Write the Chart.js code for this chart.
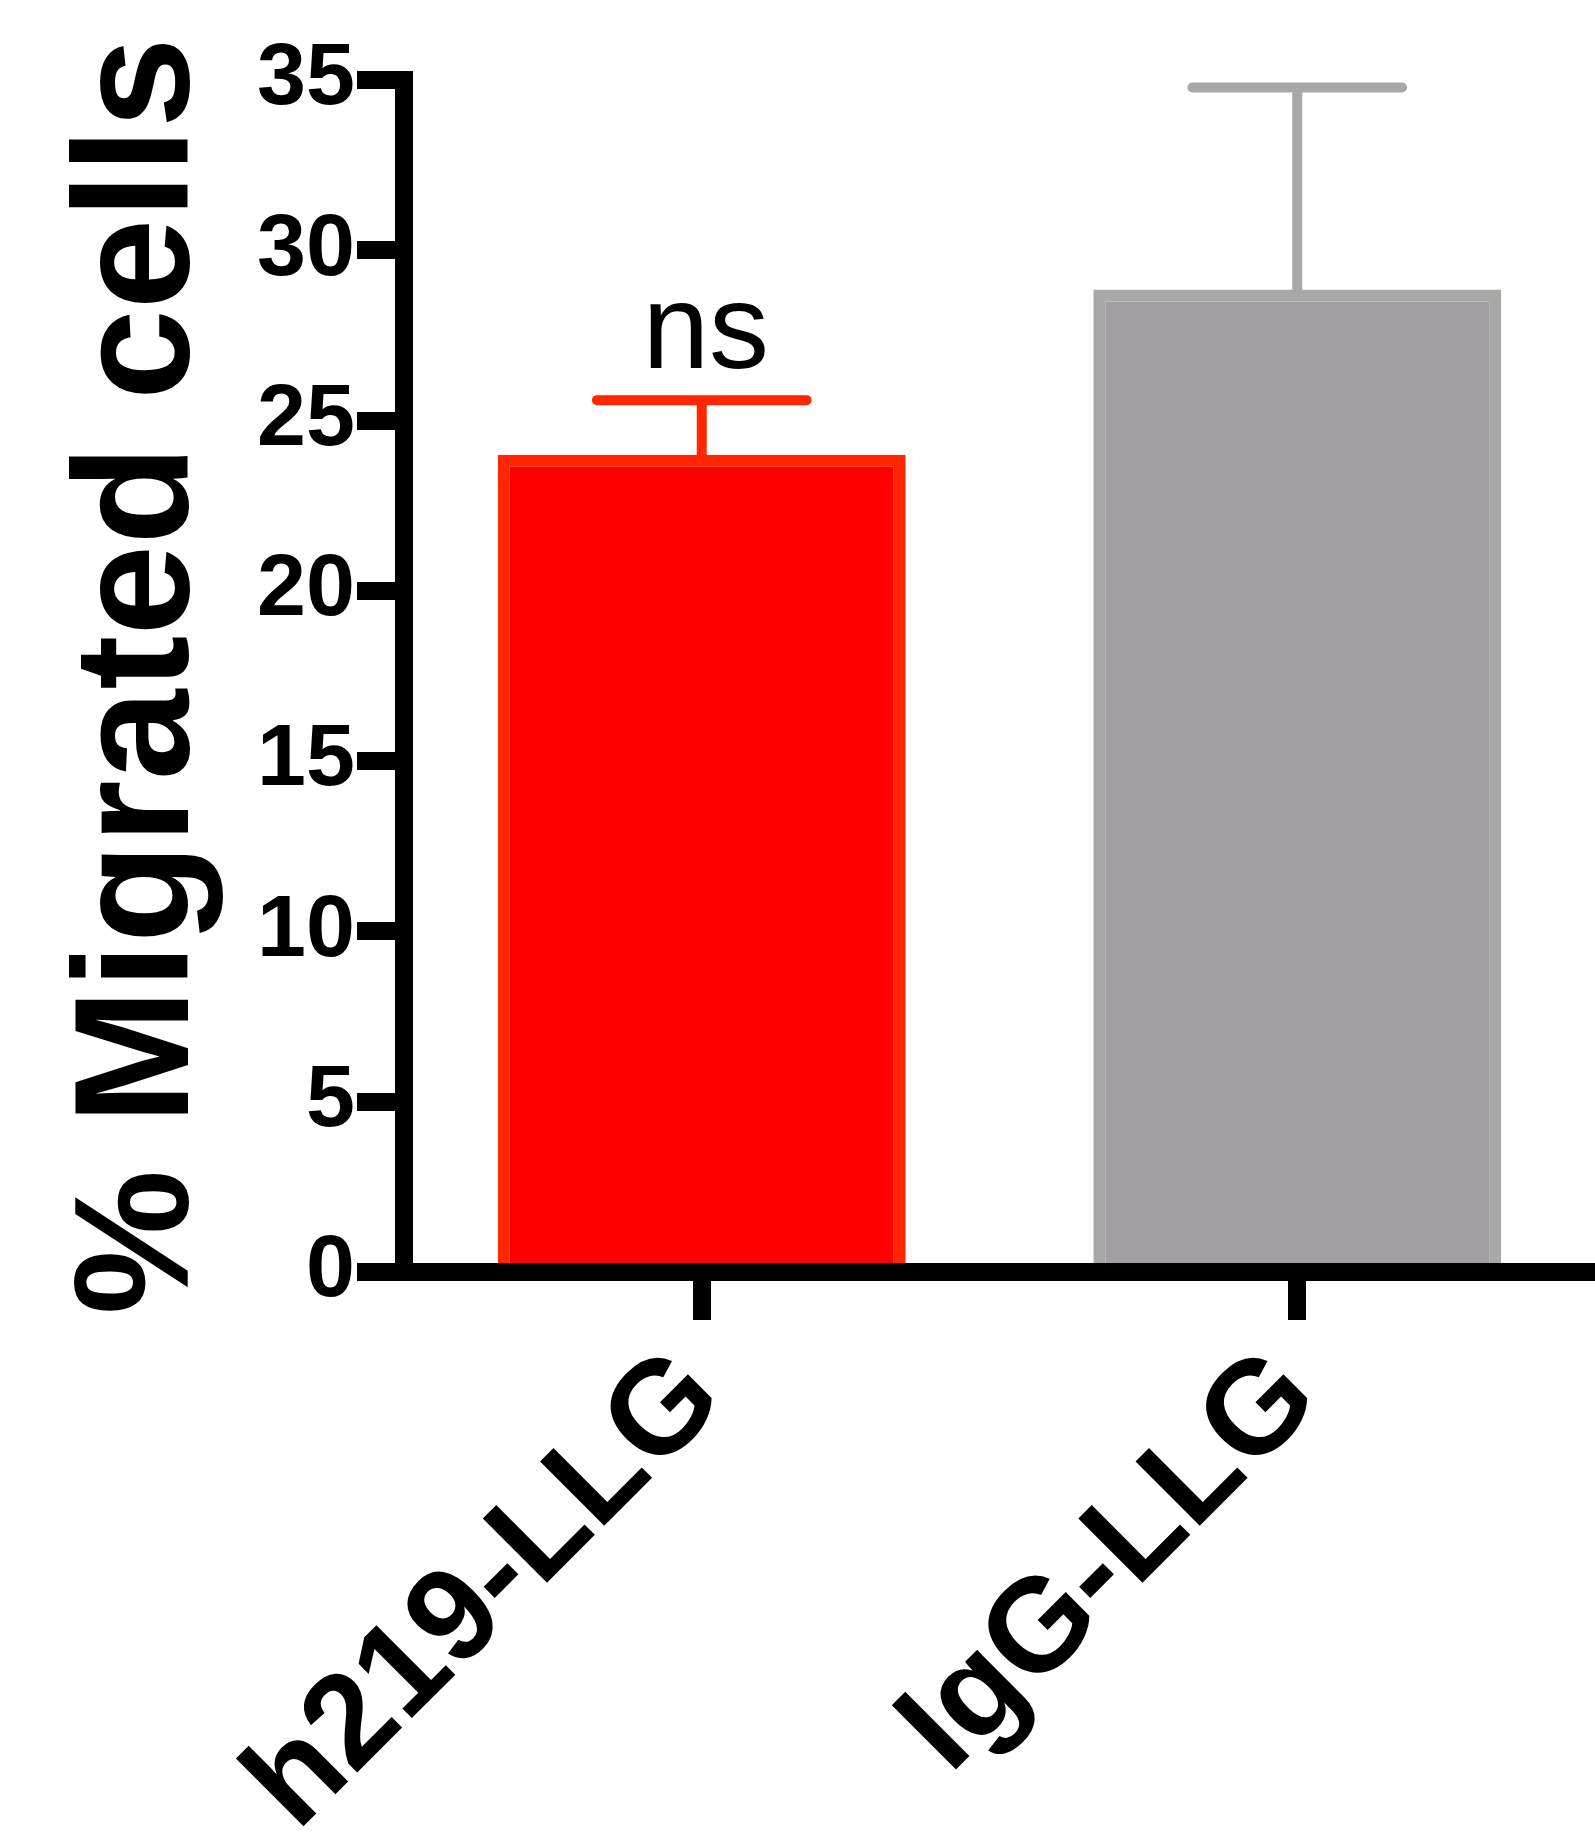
<!DOCTYPE html>
<html>
<head>
<meta charset="utf-8">
<script src="https://cdn.jsdelivr.net/npm/chart.js@4/dist/chart.umd.min.js"></script>
<style>
  html, body { margin: 0; padding: 0; background: #ffffff; }
  #wrap { width: 1595px; height: 1847px; }
</style>
</head>
<body>
<div id="wrap"><canvas id="c" width="1595" height="1847"></canvas></div>
<script>
// ---- data ----
const categories = ['h219-LLG', 'IgG-LLG'];
const means = [24.0, 28.85];
const errors = [1.6, 5.93];
const annotations = ['ns', ''];
const yMin = 0;
const yMax = 35;
const yStep = 5;

// ---- styles ----
const fillColors = ['#FF0000', '#A19FA4'];
const borderColors = ['#FF2600', '#A8A8A7'];
const FONT = "'Liberation Sans', Arial, Helvetica, sans-serif";

const errorBarPlugin = {
  id: 'errorBars',
  afterDatasetsDraw(chart) {
    const ctx = chart.ctx;
    const meta = chart.getDatasetMeta(0);
    const yScale = chart.scales.y;
    meta.data.forEach((bar, i) => {
      const top = yScale.getPixelForValue(means[i] + errors[i]);
      const half = bar.width * 0.257;
      ctx.save();
      ctx.strokeStyle = borderColors[i];
      ctx.lineWidth = 10;
      ctx.lineCap = 'butt';
      ctx.beginPath();
      ctx.moveTo(bar.x, bar.y + 2);
      ctx.lineTo(bar.x, top);
      ctx.stroke();
      ctx.lineCap = 'round';
      ctx.beginPath();
      ctx.moveTo(bar.x - half, top);
      ctx.lineTo(bar.x + half, top);
      ctx.stroke();
      if (annotations[i]) {
        ctx.fillStyle = '#000000';
        ctx.font = '120px ' + FONT;
        ctx.textAlign = 'center';
        ctx.textBaseline = 'alphabetic';
        ctx.fillText(annotations[i], bar.x + 4, top - 32);
      }
      ctx.restore();
    });
  }
};

new Chart(document.getElementById('c'), {
  type: 'bar',
  data: {
    labels: categories,
    datasets: [{
      data: means,
      backgroundColor: fillColors,
      borderColor: borderColors,
      borderWidth: 12,
      borderSkipped: 'start',
      barPercentage: 0.685,
      categoryPercentage: 1.0
    }]
  },
  options: {
    responsive: false,
    devicePixelRatio: 1,
    animation: false,
    layout: { padding: { top: 80, left: 0, right: 0, bottom: 0 } },
    plugins: { legend: { display: false }, tooltip: { enabled: false } },
    scales: {
      x: {
        offset: true,
        grid: {
          display: true,
          offset: false,
          drawOnChartArea: false,
          drawTicks: true,
          tickLength: 48,
          lineWidth: 18,
          color: '#000000'
        },
        border: { display: true, width: 18, color: '#000000', z: 1 },
        ticks: {
          autoSkip: false,
          maxRotation: 45,
          minRotation: 45,
          padding: 10,
          color: '#000000',
          font: { family: FONT, size: 132, weight: 'bold', lineHeight: 1.0 }
        },
        afterFit(scale) { scale.height = 575; }
      },
      y: {
        min: yMin,
        max: yMax,
        grid: {
          display: true,
          drawOnChartArea: false,
          drawTicks: true,
          tickLength: 47,
          lineWidth: 18,
          color: '#000000'
        },
        border: { display: true, width: 18, color: '#000000' },
        ticks: {
          stepSize: yStep,
          padding: 2,
          color: '#000000',
          font: { family: FONT, size: 88, weight: 'bold', lineHeight: 1.0 }
        },
        title: {
          display: true,
          text: '% Migrated cells',
          color: '#000000',
          padding: { top: 62, bottom: 0 },
          font: { family: FONT, size: 163, weight: 'bold', lineHeight: 1.0 }
        },
        afterFit(scale) { scale.width = 404; }
      }
    }
  },
  plugins: [errorBarPlugin]
});
</script>
</body>
</html>
